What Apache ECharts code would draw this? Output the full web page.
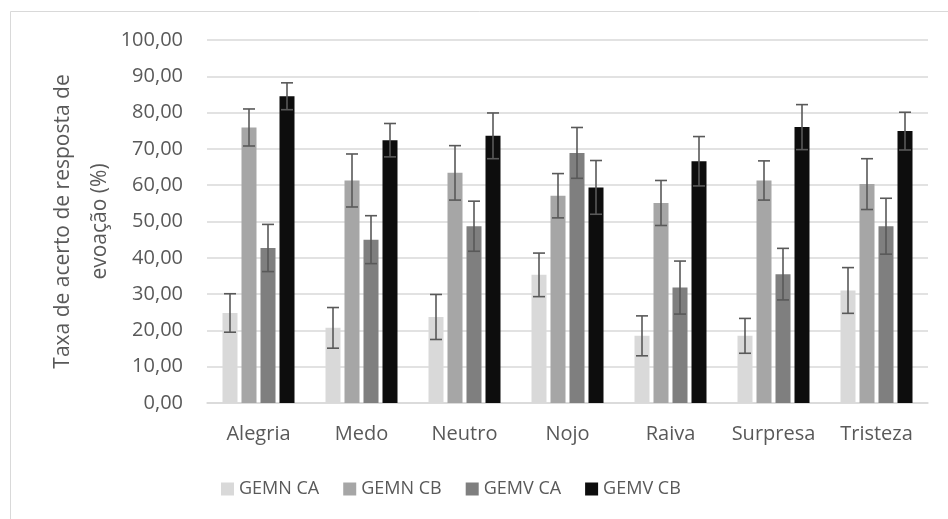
<!DOCTYPE html>
<html lang="pt">
<head>
<meta charset="UTF-8">
<title>Taxa de acerto</title>
<script src="https://cdn.jsdelivr.net/npm/echarts@6/dist/echarts.min.js"></script>
<style>
  html, body { margin: 0; padding: 0; background: #fff; }
  #main { width: 948px; height: 519px; }
</style>
</head>
<body>
<div id="main"></div>
<script>
// categorias e séries
const categories = ['Alegria', 'Medo', 'Neutro', 'Nojo', 'Raiva', 'Surpresa', 'Tristeza'];
const seriesNames = ['GEMN CA', 'GEMN CB', 'GEMV CA', 'GEMV CB'];

const gemnCA = [24.8, 20.7, 23.7, 35.3, 18.5, 18.5, 31.0];
const gemnCB = [75.9, 61.3, 63.4, 57.1, 55.1, 61.3, 60.3];
const gemvCA = [42.7, 45.0, 48.7, 68.9, 31.8, 35.5, 48.7];
const gemvCB = [84.5, 72.4, 73.6, 59.4, 66.6, 76.0, 74.9];

// barras de erro (±)
const errGemnCA = [5.3, 5.6, 6.2, 6.0, 5.5, 4.8, 6.3];
const errGemnCB = [5.1, 7.3, 7.5, 6.1, 6.2, 5.4, 7.0];
const errGemvCA = [6.5, 6.6, 6.9, 7.0, 7.3, 7.1, 7.7];
const errGemvCB = [3.7, 4.6, 6.3, 7.4, 6.8, 6.2, 5.2];

const values = [gemnCA, gemnCB, gemvCA, gemvCB];
const errors = [errGemnCA, errGemnCB, errGemvCA, errGemvCB];
const colors = ['#d9d9d9', '#a6a6a6', '#7f7f7f', '#0d0d0d'];

const BAR_W = 15;
const BAR_GAP = 4;
const FONT = '"Open Sans", "Noto Sans", sans-serif';

let chart = echarts.init(document.getElementById('main'));

let series = [];
values.forEach((vals, i) => {
  series.push({
    name: seriesNames[i],
    type: 'bar',
    data: vals,
    barWidth: BAR_W,
    barGap: (BAR_GAP / BAR_W * 100) + '%',
    itemStyle: { color: colors[i] }
  });
});

// barras de erro
values.forEach((vals, i) => {
  series.push({
    type: 'custom',
    name: seriesNames[i],
    silent: true,
    z: 10,
    data: vals.map((v, k) => [k, v - errors[i][k], v + errors[i][k]]),
    renderItem: function (params, api) {
      let k = api.value(0);
      let lo = api.coord([k, api.value(1)]);
      let hi = api.coord([k, api.value(2)]);
      let off = (i - 1.5) * (BAR_W + BAR_GAP);
      let x = lo[0] + off;
      let cap = 6;
      let st = { stroke: '#595959', lineWidth: 1.6 };
      return {
        type: 'group',
        children: [
          { type: 'line', shape: { x1: x, y1: lo[1], x2: x, y2: hi[1] }, style: st },
          { type: 'line', shape: { x1: x - cap, y1: lo[1], x2: x + cap, y2: lo[1] }, style: st },
          { type: 'line', shape: { x1: x - cap, y1: hi[1], x2: x + cap, y2: hi[1] }, style: st }
        ]
      };
    }
  });
});

let option = {
  backgroundColor: '#fff',
  animation: false,
  textStyle: { fontFamily: FONT },
  graphic: [{
    type: 'rect',
    shape: { x: 10.5, y: 11.5, width: 1000, height: 600 },
    style: { fill: 'none', stroke: '#d9d9d9', lineWidth: 1 },
    silent: true
  }],
  grid: { left: 207, right: 20, top: 40, bottom: 116 },
  legend: {
    data: seriesNames,
    bottom: 21,
    left: 221,
    padding: 0,
    icon: 'rect',
    itemWidth: 13,
    itemHeight: 13,
    itemGap: 24,
    textStyle: { color: '#595959', fontSize: 18, fontFamily: FONT }
  },
  xAxis: {
    type: 'category',
    data: categories,
    axisLine: { lineStyle: { color: '#d9d9d9', width: 1.5 } },
    axisTick: { show: false },
    axisLabel: { color: '#595959', fontSize: 20, margin: 21, interval: 0, fontFamily: FONT }
  },
  yAxis: {
    type: 'value',
    min: 0,
    max: 100,
    interval: 10,
    name: 'Taxa de acerto de resposta de\nevoação (%)',
    nameLocation: 'middle',
    nameGap: 88,
    nameMoveOverlap: false,
    nameTextStyle: { color: '#595959', fontSize: 21, lineHeight: 37, fontFamily: FONT },
    axisLabel: {
      color: '#595959', fontSize: 20, margin: 24, fontFamily: FONT,
      formatter: v => v.toFixed(2).replace('.', ',')
    },
    splitLine: { lineStyle: { color: '#d9d9d9', width: 1.5 } },
    axisLine: { show: false },
    axisTick: { show: false }
  },
  series: series
};

chart.setOption(option);
</script>
</body>
</html>
